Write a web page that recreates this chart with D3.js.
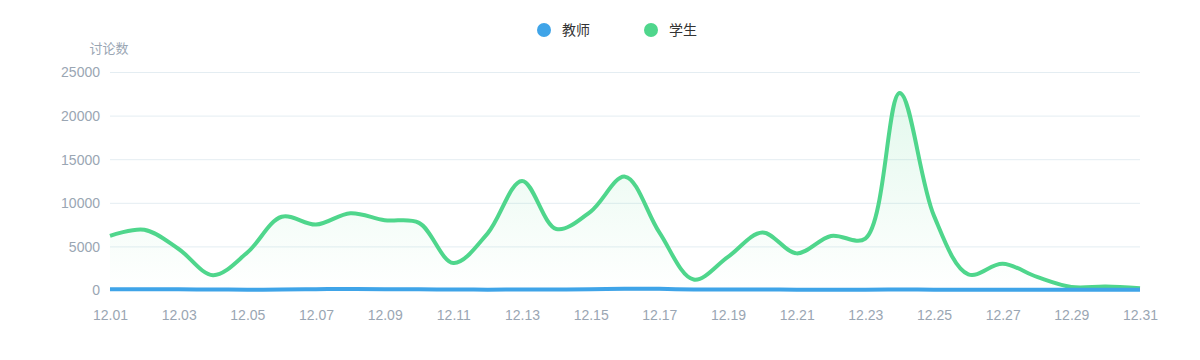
<!DOCTYPE html>
<html>
<head>
<meta charset="utf-8">
<script src="https://cdn.jsdelivr.net/npm/d3@7"></script>
<style>
  body { margin: 0; background: #fff; }
  svg { display: block; font-family: "Microsoft YaHei", "Noto Sans CJK SC", "Noto Sans", sans-serif; }
</style>
</head>
<body>
<svg id="chart" width="1200" height="360"></svg>
<script>
// 日期
const days = d3.range(1, 32).map(d => '12.' + String(d).padStart(2, '0'));
const yTicks = [0, 5000, 10000, 15000, 20000, 25000];

// 教师 讨论数
const teacher = [80, 90, 80, 60, 40, 50, 100, 120, 90, 80, 60, 40, 50, 60, 100, 150, 130, 60, 50, 50, 40, 40, 40, 60, 40, 30, 30, 30, 30, 30, 20];
// 学生 讨论数
const student = [6200, 6900, 4700, 1700, 4300, 8400, 7500, 8800, 8000, 7700, 3100, 6500, 12500, 7000, 9000, 13000, 6600, 1200, 3800, 6600, 4200, 6200, 5900, 22600, 8500, 1800, 3000, 1500, 350, 400, 200];

const seriesNames = ['教师', '学生'];
const colors = ['#3fa4e8', '#4fd68c'];

const dims = { width: 1200, height: 360, margin_left: 110, margin_right: 60, margin_top: 72, margin_bottom: 70 };
const { width, height, margin_left, margin_right, margin_top, margin_bottom } = dims;

const svg = d3.select('#chart');

const x = d3.scalePoint().domain(days).range([margin_left, width - margin_right]);
const y = d3.scaleLinear().domain([0, 25000]).range([height - margin_bottom, margin_top]);

// 渐变
const grad = svg.append('defs').append('linearGradient')
  .attr('id', 'stuFill').attr('x1', 0).attr('y1', 0).attr('x2', 0).attr('y2', 1);
grad.append('stop').attr('offset', '0%').attr('stop-color', colors[1]).attr('stop-opacity', 0.16);
grad.append('stop').attr('offset', '100%').attr('stop-color', colors[1]).attr('stop-opacity', 0.0);

// 网格线
svg.append('g')
  .selectAll('line')
  .data(yTicks)
  .join('line')
  .attr('x1', margin_left).attr('x2', width - margin_right)
  .attr('y1', d => y(d) + 0.5).attr('y2', d => y(d) + 0.5)
  .attr('stroke', '#e4edf2').attr('stroke-width', 1);

// y 轴
const yAxis = d3.axisLeft(y).tickValues(yTicks).tickFormat(d3.format('d')).tickSize(0).tickPadding(10);
const gy = svg.append('g').attr('transform', `translate(${margin_left},0)`).call(yAxis);
gy.select('.domain').remove();
gy.selectAll('text').attr('fill', '#9aa6b3').style('font-size', '14px').attr('dy', '0.35em');

svg.append('text')
  .attr('x', 109).attr('y', 53)
  .attr('text-anchor', 'middle')
  .attr('fill', '#9aa6b3')
  .style('font-size', '13px')
  .text('讨论数');

// x 轴
const xAxis = d3.axisBottom(x)
  .tickValues(days.filter((d, i) => i % 2 === 0))
  .tickSize(0).tickPadding(20);
const gx = svg.append('g').attr('transform', `translate(0,${height - margin_bottom})`).call(xAxis);
gx.select('.domain').remove();
gx.selectAll('text').attr('fill', '#9aa6b3').style('font-size', '14px');

const curve = d3.curveCatmullRom.alpha(0.5);

// 学生 面积
svg.append('path')
  .datum(student)
  .attr('fill', 'url(#stuFill)')
  .attr('d', d3.area().x((d, i) => x(days[i])).y0(y(0)).y1(d => y(d)).curve(curve));

const line = d3.line().x((d, i) => x(days[i])).y(d => y(d)).curve(curve);

svg.append('path')
  .datum(student)
  .attr('fill', 'none')
  .attr('stroke', colors[1])
  .attr('stroke-width', 4)
  .attr('stroke-linejoin', 'round')
  .attr('d', line);

svg.append('path')
  .datum(teacher)
  .attr('fill', 'none')
  .attr('stroke', colors[0])
  .attr('stroke-width', 4)
  .attr('stroke-linejoin', 'round')
  .attr('d', line);

// 图例
const legend = svg.append('g').attr('transform', 'translate(544,30)');
const items = legend.selectAll('g')
  .data(seriesNames)
  .join('g')
  .attr('transform', (d, i) => `translate(${i * 107},0)`);
items.append('circle').attr('r', 7).attr('fill', (d, i) => colors[i]);
items.append('text')
  .attr('x', 18).attr('dy', '0.35em')
  .attr('fill', '#333')
  .style('font-size', '14px')
  .text(d => d);
</script>
</body>
</html>
